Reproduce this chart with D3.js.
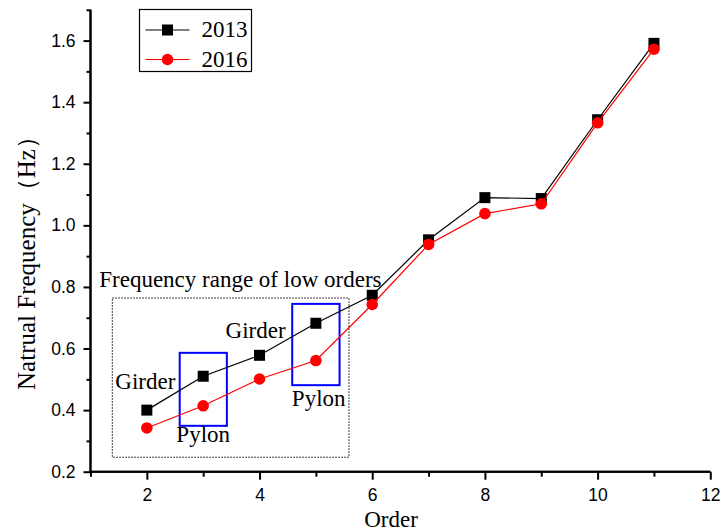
<!DOCTYPE html>
<html>
<head>
<meta charset="utf-8">
<script src="https://cdn.jsdelivr.net/npm/d3@7"></script>
<style>
  html, body { margin: 0; padding: 0; background: #fff; }
  svg { display: block; }
  .serif { font-family: "Liberation Serif", "Times New Roman", serif; }
  .sans { font-family: "Liberation Sans", Arial, sans-serif; }
</style>
</head>
<body>
<script>
// Natural frequencies of the first modes, measured in two years
const orders = [2, 3, 4, 5, 6, 7, 8, 9, 10, 11];
const freq2013 = [0.400, 0.510, 0.578, 0.682, 0.773, 0.953, 1.090, 1.087, 1.343, 1.591];
const freq2016 = [0.342, 0.414, 0.501, 0.561, 0.743, 0.938, 1.038, 1.070, 1.333, 1.572];
const seriesNames = ["2013", "2016"];
const xMajorTicks = [2, 4, 6, 8, 10, 12];
const xMinorTicks = [1, 3, 5, 7, 9, 11];
const yMajorTicks = [0.2, 0.4, 0.6, 0.8, 1.0, 1.2, 1.4, 1.6];
const yMinorTicks = [0.3, 0.5, 0.7, 0.9, 1.1, 1.3, 1.5, 1.7];

const W = 721, H = 531;
const svg = d3.select("body").append("svg").attr("width", W).attr("height", H);

const x = d3.scaleLinear().domain([1, 12]).range([90.5, 710.3]);
const y = d3.scaleLinear().domain([0.2, 1.7]).range([471.7, 9.8]);

// Axes
const xAxis = svg.append("g").attr("transform", `translate(0,${y(0.2)})`);
xAxis.call(d3.axisBottom(x).tickValues(xMajorTicks).tickSize(8).tickPadding(9).tickFormat(d3.format("d")));
xAxis.append("g").call(d3.axisBottom(x).tickValues(xMinorTicks).tickSize(5).tickFormat(""));
const yAxis = svg.append("g").attr("transform", `translate(${x(1)},0)`);
yAxis.call(d3.axisLeft(y).tickValues(yMajorTicks).tickSize(7).tickPadding(8).tickFormat(d3.format(".1f")));
yAxis.append("g").call(d3.axisLeft(y).tickValues(yMinorTicks).tickSize(4).tickFormat(""));

svg.selectAll(".domain").attr("stroke", "#000").attr("stroke-width", 2);
svg.selectAll(".tick line").attr("stroke", "#000").attr("stroke-width", 2);
svg.selectAll(".tick text")
  .attr("class", "sans").attr("font-size", 17.5).attr("fill", "#000");
xAxis.selectAll(".domain").attr("d", `M${x(1)},0H${x(12)}`);
yAxis.selectAll(".domain").attr("d", `M0,${y(0.2)}V${y(1.7)}`);

// Axis titles
svg.append("text").attr("class", "serif")
  .attr("x", 391).attr("y", 527).attr("text-anchor", "middle")
  .attr("font-size", 23).text("Order");
svg.append("text").attr("class", "serif")
  .attr("transform", "translate(35,257) rotate(-90)")
  .attr("text-anchor", "middle").attr("font-size", 25)
  .text("Natrual Frequency（Hz）");

// Annotation frames
const lowRange = { x0: 1.387, x1: 5.587, y0: 0.247, y1: 0.764 };
svg.append("rect")
  .attr("x", x(lowRange.x0)).attr("y", y(lowRange.y1))
  .attr("width", x(lowRange.x1) - x(lowRange.x0))
  .attr("height", y(lowRange.y0) - y(lowRange.y1))
  .attr("fill", "none").attr("stroke", "#000").attr("stroke-width", 1)
  .attr("stroke-dasharray", "1.5,1.5");

const pylonBoxes = [
  { x0: 2.583, x1: 3.42, y0: 0.349, y1: 0.586 },
  { x0: 4.58, x1: 5.42, y0: 0.481, y1: 0.745 }
];
svg.selectAll(".pylonBox").data(pylonBoxes).enter().append("rect")
  .attr("x", d => x(d.x0)).attr("y", d => y(d.y1))
  .attr("width", d => x(d.x1) - x(d.x0))
  .attr("height", d => y(d.y0) - y(d.y1))
  .attr("fill", "none").attr("stroke", "#0000ff").attr("stroke-width", 2);

// Series lines and markers
const line = d3.line().x(d => x(d[0])).y(d => y(d[1]));
const pts2013 = orders.map((o, i) => [o, freq2013[i]]);
const pts2016 = orders.map((o, i) => [o, freq2016[i]]);

svg.append("path").datum(pts2013).attr("d", line)
  .attr("fill", "none").attr("stroke", "#000").attr("stroke-width", 1.2);
svg.selectAll(".sq").data(pts2013).enter().append("rect")
  .attr("x", d => x(d[0]) - 5.5).attr("y", d => y(d[1]) - 5.5)
  .attr("width", 11).attr("height", 11).attr("fill", "#000");

svg.append("path").datum(pts2016).attr("d", line)
  .attr("fill", "none").attr("stroke", "#ff0000").attr("stroke-width", 1.2);
svg.selectAll(".ci").data(pts2016).enter().append("circle")
  .attr("cx", d => x(d[0])).attr("cy", d => y(d[1]))
  .attr("r", 5.8).attr("fill", "#ff0000");

// Text annotations
const notes = [
  { t: "Frequency range of low orders", o: 1.155, f: 0.800, anchor: "start" },
  { t: "Girder", o: 1.973, f: 0.467, anchor: "middle" },
  { t: "Pylon", o: 3.0, f: 0.295, anchor: "middle" },
  { t: "Girder", o: 3.93, f: 0.634, anchor: "middle" },
  { t: "Pylon", o: 5.05, f: 0.414, anchor: "middle" }
];
svg.selectAll(".note").data(notes).enter().append("text")
  .attr("class", "serif")
  .attr("x", d => x(d.o)).attr("y", d => y(d.f))
  .attr("text-anchor", d => d.anchor)
  .attr("font-size", 23).text(d => d.t);

// Legend
const lg = svg.append("g").attr("transform", "translate(139.5,9.5)");
lg.append("rect").attr("width", 112).attr("height", 62)
  .attr("fill", "#fff").attr("stroke", "#000").attr("stroke-width", 1.2);
const rows = [
  { name: seriesNames[0], color: "#000", shape: "square", cy: 20.5 },
  { name: seriesNames[1], color: "#ff0000", shape: "circle", cy: 50 }
];
rows.forEach(r => {
  lg.append("line").attr("x1", 6).attr("x2", 50).attr("y1", r.cy).attr("y2", r.cy)
    .attr("stroke", r.color).attr("stroke-width", 1.2);
  if (r.shape === "square") {
    lg.append("rect").attr("x", 28 - 5.5).attr("y", r.cy - 5.5)
      .attr("width", 11).attr("height", 11).attr("fill", r.color);
  } else {
    lg.append("circle").attr("cx", 28).attr("cy", r.cy).attr("r", 5.8).attr("fill", r.color);
  }
  lg.append("text").attr("class", "serif").attr("x", 62).attr("y", r.cy + 7)
    .attr("font-size", 23).text(r.name);
});
</script>
</body>
</html>
